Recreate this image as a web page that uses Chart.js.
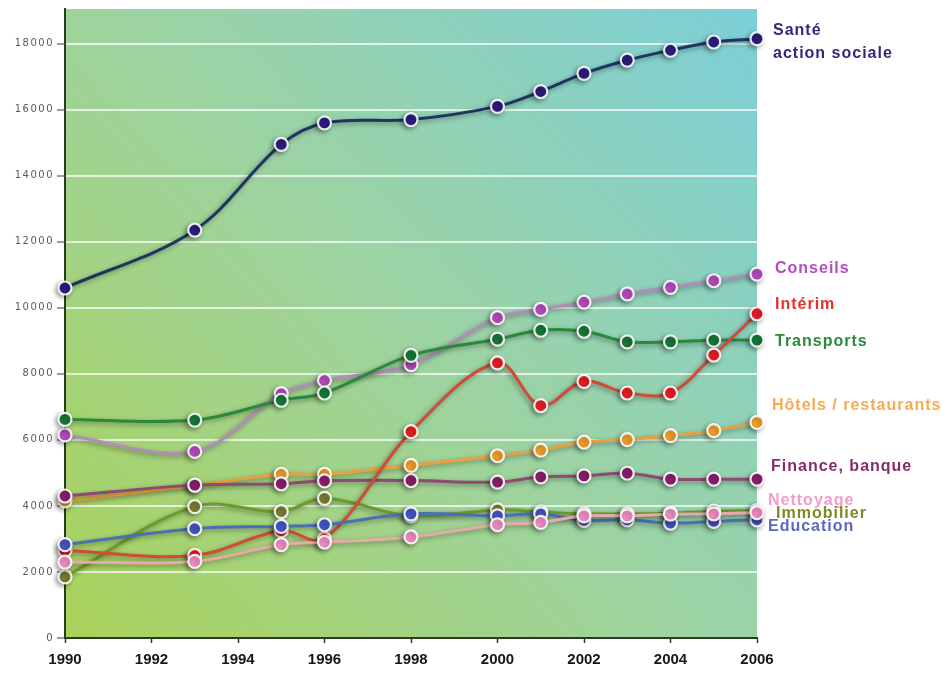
<!DOCTYPE html>
<html lang="fr">
<head>
<meta charset="utf-8">
<title>Emploi par secteur 1990-2006</title>
<script src="https://cdn.jsdelivr.net/npm/chart.js@4.4.1/dist/chart.umd.min.js"></script>
<style>
  html, body { margin: 0; padding: 0; background: #ffffff; }
  #wrap { width: 951px; height: 677px; position: relative; }
</style>
</head>
<body>
<div id="wrap"><canvas id="c" width="951" height="677"></canvas></div>
<script>
// Années observées
const years = [1990, 1993, 1995, 1996, 1998, 2000, 2001, 2002, 2003, 2004, 2005, 2006];

// Effectifs par secteur
const sante      = [10600, 12350, 14950, 15600, 15700, 16100, 16550, 17100, 17500, 17800, 18050, 18150];
const conseils   = [6150, 5650, 7400, 7800, 8280, 9700, 9950, 10170, 10420, 10620, 10820, 11020];
const interim    = [2650, 2500, 3250, 3000, 6250, 8330, 7040, 7770, 7420, 7420, 8570, 9820];
const transports = [6620, 6600, 7200, 7420, 8560, 9050, 9320, 9290, 8970, 8970, 9020, 9020];
const hotels     = [4150, 4620, 4960, 4960, 5230, 5520, 5690, 5930, 6010, 6130, 6280, 6530];
const finance    = [4300, 4630, 4670, 4760, 4770, 4720, 4880, 4910, 4990, 4810, 4810, 4810];
const nettoyage  = [2300, 2320, 2830, 2900, 3060, 3430, 3500, 3700, 3700, 3750, 3760, 3800];
const immobilier = [1850, 3980, 3830, 4230, 3700, 3880, 3820, 3760, 3760, 3780, 3840, 3860];
const education  = [2830, 3310, 3380, 3430, 3760, 3700, 3760, 3560, 3580, 3480, 3530, 3580];

// Libellés des séries (affichés en bout de courbe), du premier plan vers l'arrière-plan
const seriesNames = ["Santé\naction sociale", "Nettoyage", "Education", "Intérim", "Immobilier",
                     "Finance, banque", "Hôtels / restaurants", "Transports", "Conseils"];
const seriesValues = [sante, nettoyage, education, interim, immobilier, finance, hotels, transports, conseils];

// Axes
const xTicks = [1990, 1992, 1994, 1996, 1998, 2000, 2002, 2004, 2006];
const yTicks = [0, 2000, 4000, 6000, 8000, 10000, 12000, 14000, 16000, 18000];

// Styles : trait, point, libellé, décalage du libellé [dx, dy]
const styles = [
  { line: "#1f3560", point: "#2b1d7e", text: "#2e2a7c", off: [16, -8] },
  { line: "#e8aaa8", point: "#f28fc6", text: "#f39ccb", off: [11, -12] },
  { line: "#4a6fb2", point: "#4656c6", text: "#5a68c2", off: [11, 7] },
  { line: "#d24a38", point: "#e91e22", text: "#e3322e", off: [18, -9] },
  { line: "#6c9a2c", point: "#7a7f32", text: "#7b8a22", off: [19, 3] },
  { line: "#8e4a72", point: "#8a1f6c", text: "#882a6a", off: [14, -13] },
  { line: "#eaa03e", point: "#f2a02c", text: "#f6aa52", off: [15, -17] },
  { line: "#2a8a3c", point: "#17783a", text: "#2a8a3a", off: [18, 1] },
  { line: "#b28cba", point: "#b84cc0", text: "#b24ebe", off: [18, -6] }
];

const datasets = seriesValues.map((vals, i) => ({
  label: seriesNames[i].replace("\n", " "),
  data: years.map((y, k) => ({ x: y, y: vals[k] })),
  borderColor: styles[i].line,
  borderWidth: 3,
  tension: 0.35,
  pointRadius: 6.5,
  pointBorderWidth: 2.2,
  pointBackgroundColor: styles[i].point,
  pointBorderColor: "rgba(255,255,255,0.88)",
  clip: false,
  fill: false
}));

// Fond dégradé de la zone de tracé
const backdrop = {
  id: "backdrop",
  beforeDraw(chart) {
    const { ctx, chartArea: a } = chart;
    const g = ctx.createLinearGradient(a.left, a.bottom, a.right, a.top);
    g.addColorStop(0, "#aad25a");
    g.addColorStop(0.5, "#9dd3a2");
    g.addColorStop(1, "#7ccfd8");
    ctx.save();
    ctx.fillStyle = g;
    ctx.fillRect(a.left, a.top, a.right - a.left, a.bottom - a.top);
    ctx.restore();
  }
};

// Ombre portée des courbes et des points
const shadow = {
  id: "shadow",
  beforeDatasetsDraw(chart) {
    const ctx = chart.ctx;
    ctx.save();
    ctx.shadowColor = "rgba(0,0,0,0.38)";
    ctx.shadowBlur = 5;
    ctx.shadowOffsetX = -2;
    ctx.shadowOffsetY = 2;
  },
  afterDatasetsDraw(chart) {
    chart.ctx.restore();
  }
};

// Libellés en bout de courbe
const endLabels = {
  id: "endLabels",
  afterDraw(chart) {
    const { ctx } = chart;
    ctx.save();
    ctx.font = "bold 16px 'Liberation Sans', Arial, sans-serif";
    ctx.letterSpacing = "1px";
    ctx.textAlign = "left";
    ctx.textBaseline = "middle";
    chart.data.datasets.forEach((ds, i) => {
      const meta = chart.getDatasetMeta(i);
      const last = meta.data[meta.data.length - 1];
      const lines = seriesNames[i].split("\n");
      ctx.fillStyle = styles[i].text;
      lines.forEach((t, j) => {
        ctx.fillText(t, last.x + styles[i].off[0], last.y + styles[i].off[1] + j * 23);
      });
    });
    ctx.restore();
  }
};

const chart = new Chart(document.getElementById("c"), {
  type: "line",
  data: { datasets },
  plugins: [backdrop, shadow, endLabels],
  options: {
    responsive: false,
    animation: false,
    layout: { padding: { top: 7, right: 194, left: 0, bottom: 0 } },
    plugins: { legend: { display: false }, tooltip: { enabled: false } },
    scales: {
      x: {
        type: "linear",
        min: xTicks[0],
        max: xTicks[xTicks.length - 1],
        afterBuildTicks(scale) { scale.ticks = xTicks.map(v => ({ value: v })); },
        afterFit(scale) { scale.height = 39; },
        grid: { drawOnChartArea: false, drawTicks: true, tickLength: 5, tickColor: "#2b3a22", tickWidth: 1.5 },
        border: { color: "#2b3a22", width: 2 },
        ticks: {
          padding: 8,
          color: "#161616",
          font: { family: "'Liberation Sans', Arial, sans-serif", size: 15, weight: "bold" },
          callback: v => String(v)
        }
      },
      y: {
        min: 0,
        max: 19050,
        afterBuildTicks(scale) { scale.ticks = yTicks.map(v => ({ value: v })); },
        afterFit(scale) { scale.width = 65; },
        grid: { color: "rgba(255,255,255,0.7)", lineWidth: 2, tickLength: 8, tickColor: "#3a3a3a", tickWidth: 1 },
        border: { color: "#2b3a22", width: 2 },
        ticks: {
          padding: 3,
          color: "#5a5a5a",
          font: { family: "'DejaVu Sans', Verdana, sans-serif", size: 10 },
          callback: v => String(v)
        }
      }
    }
  }
});

// Chiffres de l'axe vertical légèrement espacés
const yScale = chart.scales.y;
const drawYLabels = yScale.drawLabels.bind(yScale);
yScale.drawLabels = function (area) {
  const c = this.ctx;
  const prev = c.letterSpacing;
  c.letterSpacing = "1.5px";
  drawYLabels(area);
  c.letterSpacing = prev;
};
chart.draw();
</script>
</body>
</html>
